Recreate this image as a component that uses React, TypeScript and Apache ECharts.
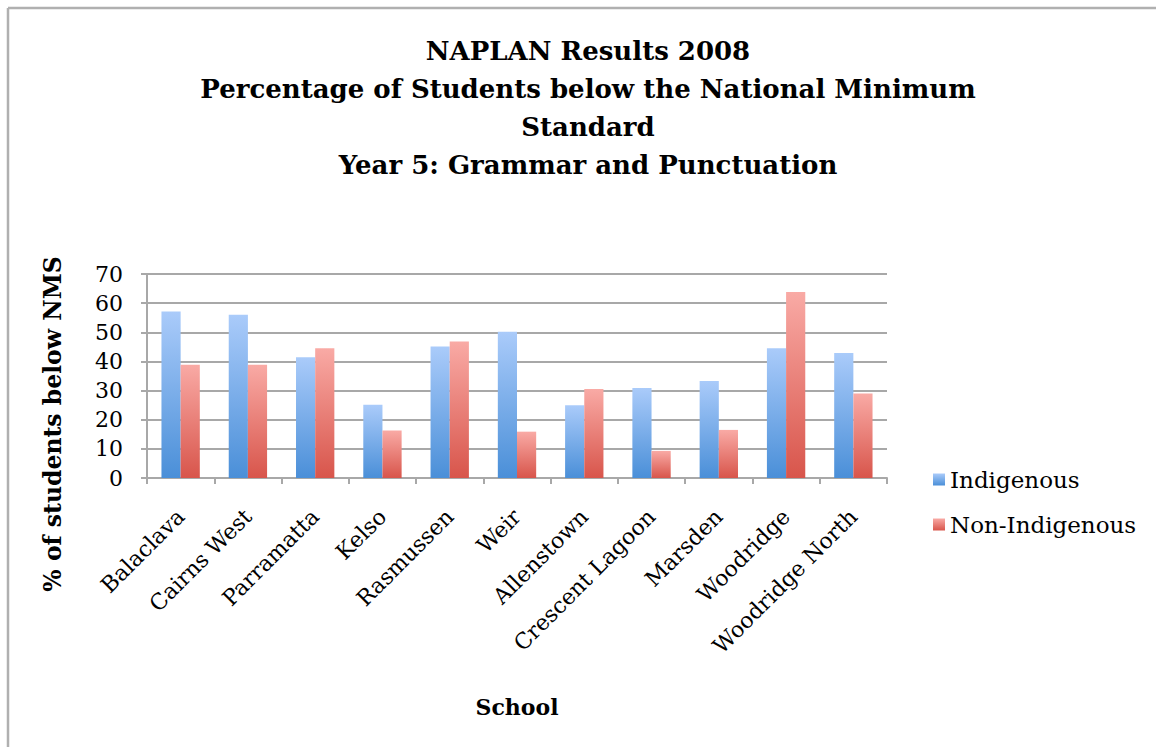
import React, { useEffect, useRef } from "react";
import * as echarts from "echarts";

const schools = ["Balaclava", "Cairns West", "Parramatta", "Kelso", "Rasmussen", "Weir", "Allenstown", "Crescent Lagoon", "Marsden", "Woodridge", "Woodridge North"];
const indigenous = [57.1, 56.0, 41.4, 25.1, 45.1, 50.2, 25.0, 30.9, 33.3, 44.5, 42.9];
const nonIndigenous = [38.9, 38.9, 44.5, 16.3, 46.8, 15.9, 30.5, 9.3, 16.5, 63.8, 29.0];
const titleLines = ["NAPLAN Results 2008", "Percentage of Students below the National Minimum", "Standard", "Year 5: Grammar and Punctuation"];
const yAxisName = "% of students below NMS";

const FONT = "DejaVu Serif";

export default function App() {
  const ref = useRef<HTMLDivElement>(null);
  useEffect(() => {
    document.body.style.margin = "0";
    const chart = echarts.init(ref.current!, null, { renderer: "svg" });
    const grad = (top: string, bottom: string) =>
      new echarts.graphic.LinearGradient(0, 0, 0, 1, [
        { offset: 0, color: top },
        { offset: 1, color: bottom },
      ]);
    chart.setOption({
      animation: false,
      backgroundColor: "#ffffff",
      title: {
        text: titleLines.join("\n"),
        left: 583,
        textAlign: "center",
        top: 27,
        textStyle: { fontFamily: FONT, fontWeight: "bold", fontSize: 26, lineHeight: 38, color: "#000" },
      },
      graphic: [
        { type: "line", shape: { x1: 8, y1: 8, x2: 1156, y2: 8 }, style: { stroke: "#b0b0b0", lineWidth: 2.5 } },
        { type: "line", shape: { x1: 8, y1: 8, x2: 8, y2: 747 }, style: { stroke: "#b0b0b0", lineWidth: 2.5 } },
        {
          type: "text",
          x: 53,
          y: 424,
          rotation: Math.PI / 2,
          style: {
            text: yAxisName,
            fontFamily: FONT,
            fontWeight: "bold",
            fontSize: 23.5,
            fill: "#000",
            align: "center",
            verticalAlign: "middle",
          },
        },
      ],
      legend: {
        orient: "vertical",
        left: 928,
        top: 463,
        itemWidth: 12,
        itemHeight: 12,
        itemGap: 22,
        icon: "rect",
        textStyle: { fontFamily: FONT, fontSize: 23, color: "#000" },
        data: ["Indigenous", "Non-Indigenous"],
      },
      grid: { left: 147, right: 269, top: 274, bottom: 269, containLabel: false },
      xAxis: {
        type: "category",
        data: schools,
        name: "School",
        nameLocation: "middle",
        nameGap: 218,
        nameTextStyle: { fontFamily: FONT, fontWeight: "bold", fontSize: 22, color: "#000" },
        axisLine: { show: true, lineStyle: { color: "#a8a8a8", width: 2 } },
        axisTick: { show: true, length: 6, interval: 0, lineStyle: { color: "#a8a8a8", width: 2 } },
        axisLabel: { interval: 0, rotate: 45, margin: 35, fontFamily: FONT, fontSize: 22, color: "#000" },
      },
      yAxis: {
        type: "value",
        min: 0,
        max: 70,
        interval: 10,
        axisLine: { show: true, lineStyle: { color: "#a8a8a8", width: 2 } },
        axisTick: { show: true, length: 6, lineStyle: { color: "#a8a8a8", width: 2 } },
        axisLabel: { margin: 24, fontFamily: FONT, fontSize: 22, color: "#000" },
        splitLine: { show: true, lineStyle: { color: "#a8a8a8", width: 2 } },
      },
      series: [
        {
          name: "Indigenous",
          type: "bar",
          data: indigenous,
          barGap: "0%",
          barCategoryGap: "43%",
          itemStyle: { color: grad("#aacbfa", "#4a8fd8") },
        },
        {
          name: "Non-Indigenous",
          type: "bar",
          data: nonIndigenous,
          barGap: "0%",
          barCategoryGap: "43%",
          itemStyle: { color: grad("#f9aaa5", "#d8554b") },
        },
      ],
    });
    return () => chart.dispose();
  }, []);
  return <div ref={ref} style={{ position: "absolute", left: 0, top: 0, width: 1156, height: 747 }} />;
}
